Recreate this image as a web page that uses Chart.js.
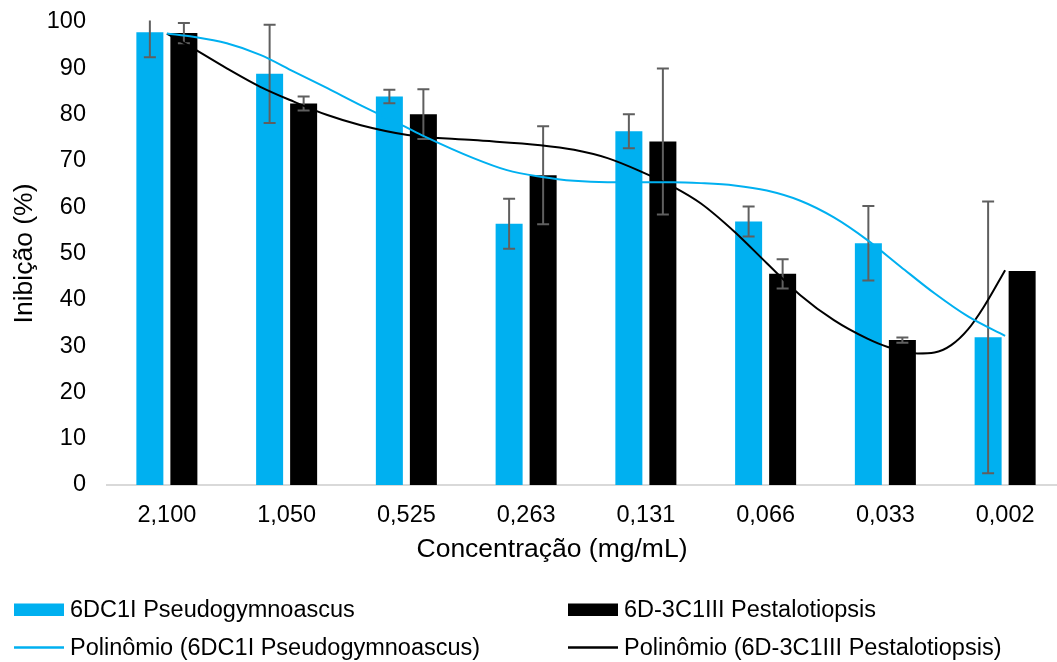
<!DOCTYPE html>
<html>
<head>
<meta charset="utf-8">
<script src="https://cdn.jsdelivr.net/npm/chart.js@4/dist/chart.umd.min.js"></script>
<style>
  html, body { margin: 0; padding: 0; background: #fff; overflow: hidden; }
  #wrap { width: 1065px; height: 662px; }
</style>
</head>
<body>
<div id="wrap"><canvas id="c" width="1065" height="662"></canvas></div>
<script>
// Concentrations tested (mg/mL)
const categories = ['2,100', '1,050', '0,525', '0,263', '0,131', '0,066', '0,033', '0,002'];

// Mean inhibition (%) and standard deviation per strain
const pseudoValues = [97.8, 88.8, 83.9, 56.4, 76.4, 56.9, 52.2, 31.9];
const pseudoErrors = [5.4, 10.6, 1.45, 5.4, 3.65, 3.25, 8.05, 29.35];
const pestaloValues = [97.6, 82.4, 80.1, 66.9, 74.2, 45.6, 31.3, 46.2];
const pestaloErrors = [2.2, 1.5, 5.35, 10.6, 15.75, 3.15, 0.55, 0];

// Polynomial trend curves, [category position, inhibition %]
const pseudoTrend = [
  [0.00, 97.5], [0.22, 96.8], [0.50, 95.4], [0.78, 92.9], [1.06, 89.3], [1.34, 85.7],
  [1.62, 82.0], [1.98, 77.5], [2.15, 75.3], [2.56, 70.6], [2.84, 68.0], [3.12, 66.6],
  [3.40, 65.7], [3.68, 65.4], [3.96, 65.4], [4.23, 65.4], [4.46, 65.2], [4.74, 64.7],
  [5.01, 63.6], [5.29, 61.4], [5.57, 57.8], [5.85, 52.9], [6.13, 47.1], [6.41, 41.4],
  [6.69, 36.4], [7.00, 32.2]
];
const pestaloTrend = [
  [0.00, 97.5], [0.22, 94.3], [0.50, 90.0], [0.78, 86.0], [1.06, 82.8], [1.34, 79.9],
  [1.62, 77.7], [2.01, 75.6], [2.56, 74.5], [3.12, 73.4], [3.40, 72.4], [3.68, 70.6],
  [3.96, 67.7], [4.23, 64.4], [4.46, 60.8], [4.74, 54.7], [5.01, 47.9], [5.29, 41.0],
  [5.57, 35.6], [5.85, 31.6], [6.02, 29.8], [6.27, 28.4], [6.41, 28.6], [6.55, 30.2],
  [6.69, 33.6], [6.82, 38.4], [7.00, 46.4]
];

// Y axis ticks
const yTicks = [0, 10, 20, 30, 40, 50, 60, 70, 80, 90, 100];

const seriesNames = ['6DC1I Pseudogymnoascus', '6D-3C1III Pestalotiopsis'];
const xTitle = 'Concentração (mg/mL)';
const BLUE = '#00B0F0';
const BLACK = '#000000';
const FONT = '"Liberation Sans", Arial, sans-serif';

const toPoints = arr => arr.map(([x, y]) => ({ x, y }));
const toBars = vals => vals.map((y, i) => ({ x: i, y }));

// Vertical error bars with caps, clipped to the plotting area
const errorBars = {
  id: 'errorBars',
  afterDatasetDraw(chart, args) {
    const ds = chart.data.datasets[args.index];
    if (!ds.errors) return;
    const yScale = chart.scales.y;
    const area = chart.chartArea;
    const ctx = chart.ctx;
    ctx.save();
    ctx.beginPath();
    ctx.rect(area.left, area.top - 1.5, area.right - area.left, area.bottom - area.top + 1.5);
    ctx.clip();
    ctx.strokeStyle = '#5f5f5f';
    ctx.lineWidth = 2;
    args.meta.data.forEach((bar, i) => {
      const e = ds.errors[i];
      if (!e) return;
      const v = ds.data[i].y;
      const yt = yScale.getPixelForValue(v + e);
      const yb = yScale.getPixelForValue(v - e);
      const x = bar.x;
      ctx.beginPath();
      ctx.moveTo(x, yt); ctx.lineTo(x, yb);
      ctx.moveTo(x - 6, yt); ctx.lineTo(x + 6, yt);
      ctx.moveTo(x - 6, yb); ctx.lineTo(x + 6, yb);
      ctx.stroke();
    });
    ctx.restore();
  }
};

// Axis title and two-column legend below the category labels
const bottomLegend = {
  id: 'bottomLegend',
  afterDraw(chart) {
    const ctx = chart.ctx;
    ctx.save();
    ctx.fillStyle = '#000';
    ctx.font = '26.5px ' + FONT;
    ctx.textAlign = 'center';
    ctx.textBaseline = 'middle';
    ctx.fillText(xTitle, 552, 550);

    const cols = [14, 568];
    const rows = [610, 647.5];
    ctx.font = '23.5px ' + FONT;
    ctx.textAlign = 'left';
    chart.data.datasets.forEach((ds, i) => {
      const x = cols[i % 2];
      const y = rows[Math.floor(i / 2)];
      if (ds.type === 'line') {
        ctx.strokeStyle = ds.borderColor;
        ctx.lineWidth = 2.5;
        ctx.beginPath();
        ctx.moveTo(x, y); ctx.lineTo(x + 50, y);
        ctx.stroke();
      } else {
        ctx.fillStyle = ds.backgroundColor;
        ctx.fillRect(x, y - 6.5, 50, 12.5);
      }
      ctx.fillStyle = '#000';
      ctx.fillText(ds.label, x + 56, y + 1);
    });
    ctx.restore();
  }
};

new Chart(document.getElementById('c'), {
  type: 'bar',
  data: {
    datasets: [
      { type: 'bar', label: seriesNames[0], data: toBars(pseudoValues), errors: pseudoErrors,
        backgroundColor: BLUE, order: 2, barPercentage: 0.794, categoryPercentage: 0.568 },
      { type: 'bar', label: seriesNames[1], data: toBars(pestaloValues), errors: pestaloErrors,
        backgroundColor: BLACK, order: 2, barPercentage: 0.794, categoryPercentage: 0.568 },
      { type: 'line', label: 'Polinômio (' + seriesNames[0] + ')', data: toPoints(pseudoTrend),
        borderColor: BLUE, borderWidth: 2, pointRadius: 0,
        cubicInterpolationMode: 'monotone', fill: false, order: 1 },
      { type: 'line', label: 'Polinômio (' + seriesNames[1] + ')', data: toPoints(pestaloTrend),
        borderColor: BLACK, borderWidth: 2, pointRadius: 0,
        cubicInterpolationMode: 'monotone', fill: false, order: 1 }
    ]
  },
  options: {
    responsive: false,
    animation: false,
    devicePixelRatio: 1,
    layout: { padding: { top: 22, right: 0, bottom: 92, left: 0 } },
    plugins: { legend: { display: false }, tooltip: { enabled: false } },
    scales: {
      x: {
        type: 'linear',
        min: -0.5, max: 7.5,
        offset: false,
        afterBuildTicks(s) { s.ticks = categories.map((_, i) => ({ value: i })); },
        grid: { display: false, drawTicks: false, offset: false },
        border: { display: true, color: '#d9d9d9', width: 2 },
        ticks: { color: '#000', font: { family: FONT, size: 23.5 }, padding: 16,
                 maxRotation: 0, autoSkip: false,
                 callback: v => categories[v] },
        title: { display: false },
        afterFit(s) { s.height = 85; }
      },
      y: {
        min: 0, max: 100,
        afterBuildTicks(s) { s.ticks = yTicks.map(v => ({ value: v })); },
        grid: { display: false, drawTicks: false },
        border: { display: false },
        ticks: { color: '#000', font: { family: FONT, size: 23.5 }, padding: 21 },
        title: { display: true, text: 'Inibição (%)', color: '#000',
                 font: { family: FONT, size: 26.5 }, padding: { top: 9, bottom: 0 } },
        afterFit(s) { s.width = 107; s.paddingTop = 0; s.paddingBottom = 0; }
      }
    }
  },
  plugins: [errorBars, bottomLegend]
});
</script>
</body>
</html>
